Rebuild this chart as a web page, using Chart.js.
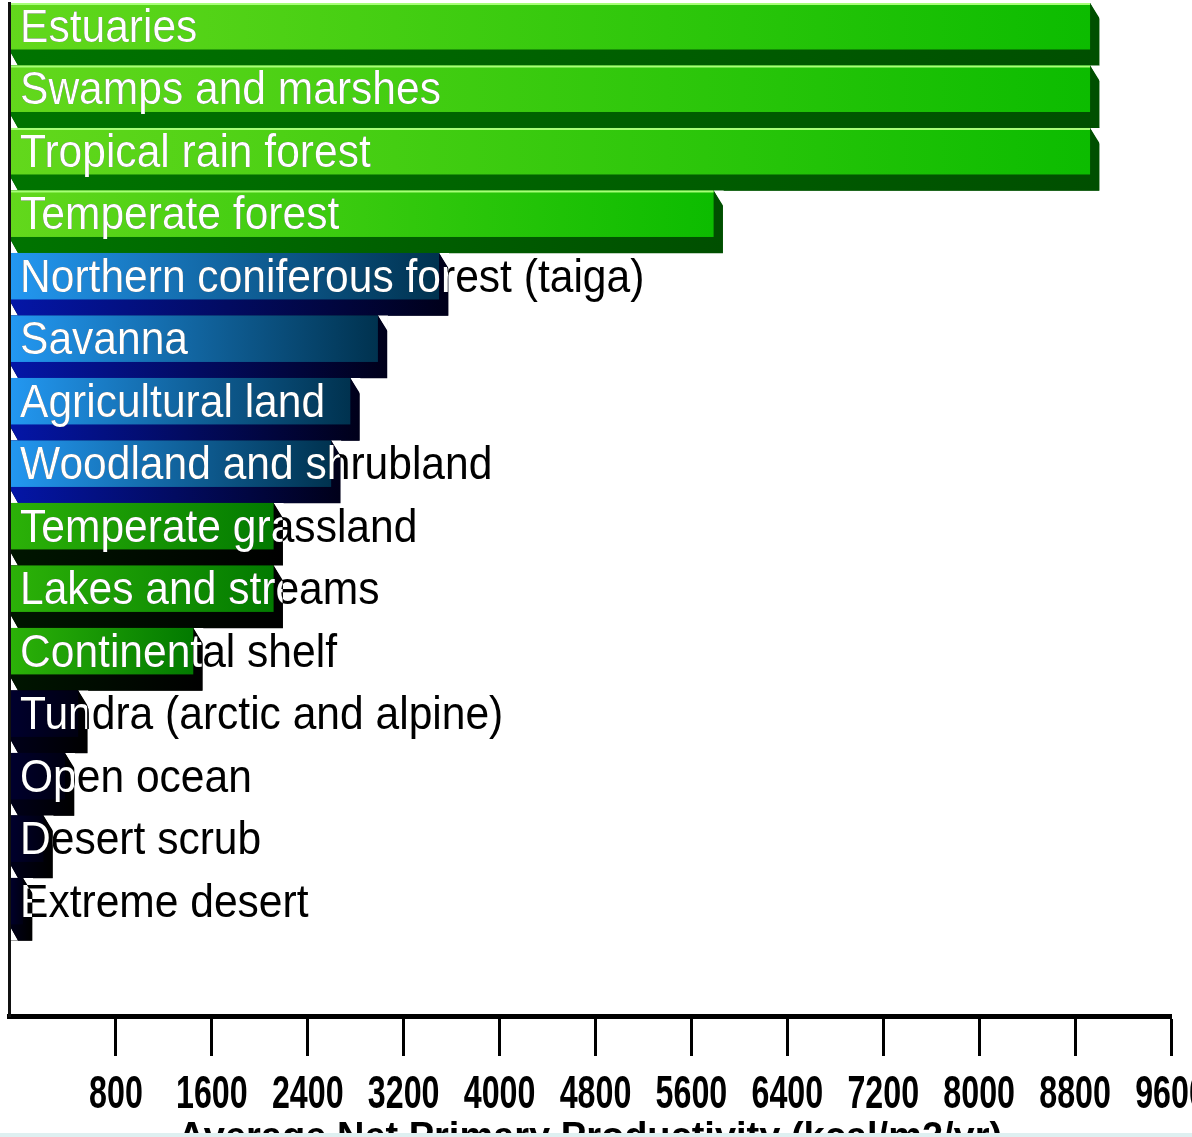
<!DOCTYPE html>
<html>
<head>
<meta charset="utf-8">
<title>Net primary productivity by life zone</title>
<script src="https://cdn.jsdelivr.net/npm/chart.js@4.4.1/dist/chart.umd.min.js"></script>
<style>
  html, body { margin: 0; padding: 0; background: #fff; overflow: hidden; }
  #wrap { position: relative; width: 1192px; height: 1137px; overflow: hidden; }
  canvas { display: block; }
  #strip { position: absolute; left: 0; bottom: 0; width: 1192px; height: 4px; background: #def0f1; }
</style>
</head>
<body>
<div id="wrap">
  <canvas id="npp" width="1192" height="1158"></canvas>
  <div id="strip"></div>
</div>
<script>
// life zones, top to bottom
const zones = [
  'Estuaries',
  'Swamps and marshes',
  'Tropical rain forest',
  'Temperate forest',
  'Northern coniferous forest (taiga)',
  'Savanna',
  'Agricultural land',
  'Woodland and shrubland',
  'Temperate grassland',
  'Lakes and streams',
  'Continental shelf',
  'Tundra (arctic and alpine)',
  'Open ocean',
  'Desert scrub',
  'Extreme desert'
];

// average net primary productivity, kcal/m2/yr
const npp = [9000, 9000, 9000, 5860, 3570, 3060, 2830, 2670, 2190, 2190, 1520, 560, 450, 270, 100];

const xTicks = [800, 1600, 2400, 3200, 4000, 4800, 5600, 6400, 7200, 8000, 8800, 9600];
const xTitle = 'Average Net Primary Productivity (kcal/m2/yr)';

// colour group of each bar
const barGroup = ['green', 'green', 'green', 'green', 'blue', 'blue', 'blue', 'blue',
  'grass', 'grass', 'grass', 'dark', 'dark', 'dark', 'dark'];

const palette = {
  green: { face: ['#63d81c', '#0cbc00'], depth: ['#007400', '#004f00'], hi: '#a8ff78' },
  blue:  { face: ['#2398f2', '#00324f'], depth: ['#0416a8', '#00001a'], hi: null },
  grass: { face: ['#2cb208', '#027a00'], depth: ['#001600', '#000000'], hi: null },
  dark:  { face: ['#00002e', '#000012'], depth: ['#00001a', '#000000'], hi: null }
};

const X_MIN = -92;
const X_MAX = 9600;
const DX = 9;   // extrusion of the bars to the right
const DY = 16;  // extrusion of the bars downwards

// one tick label, narrowed horizontally around its anchor
function drawTickItem(ctx, item, squeeze, color) {
  const o = item.options;
  ctx.save();
  ctx.translate(o.translation[0], o.translation[1]);
  ctx.scale(squeeze, 1);
  ctx.font = item.font.string;
  ctx.textAlign = o.textAlign;
  ctx.textBaseline = o.textBaseline;
  ctx.fillStyle = color || o.color;
  ctx.fillText(item.label, 0, item.textOffset || 0);
  ctx.restore();
}

// linear scale whose tick labels are set in a condensed width
class NarrowLinearScale extends Chart.LinearScale {
  drawLabels(chartArea) {
    if (!this.options.ticks.display) return;
    const squeeze = this.options.squeeze || 1;
    for (const item of this.getLabelItems(chartArea)) {
      drawTickItem(this.ctx, item, squeeze);
    }
  }
}
NarrowLinearScale.id = 'narrowLinear';
NarrowLinearScale.defaults = Chart.LinearScale.defaults;
Chart.register(NarrowLinearScale);

function barShape(ctx, bar) {
  const left = bar.base, right = bar.x;
  const top = bar.y - bar.height / 2, bottom = bar.y + bar.height / 2;
  const fx = right - DX, fy = bottom - DY;
  ctx.moveTo(left, top);
  ctx.lineTo(fx, top);
  ctx.lineTo(right, top + DY);
  ctx.lineTo(right, bottom);
  ctx.lineTo(left + DX, bottom);
  ctx.lineTo(left, fy);
  ctx.closePath();
}

const bar3d = {
  id: 'bar3d',
  afterDatasetsDraw(chart) {
    const ctx = chart.ctx;
    chart.getDatasetMeta(0).data.forEach((bar, i) => {
      const p = palette[barGroup[i]];
      const left = bar.base, right = bar.x;
      const top = bar.y - bar.height / 2, bottom = bar.y + bar.height / 2;
      const fx = right - DX, fy = bottom - DY;
      ctx.save();
      // bevelled corners back to page colour
      ctx.fillStyle = '#fff';
      ctx.beginPath();
      ctx.moveTo(fx, top); ctx.lineTo(right + 1, top); ctx.lineTo(right + 1, top + DY); ctx.closePath();
      ctx.moveTo(left, fy); ctx.lineTo(left + DX, bottom); ctx.lineTo(left, bottom); ctx.closePath();
      ctx.fill();
      // extruded body
      const dg = ctx.createLinearGradient(left, 0, right, 0);
      dg.addColorStop(0, p.depth[0]);
      dg.addColorStop(1, p.depth[1]);
      ctx.fillStyle = dg;
      ctx.beginPath();
      barShape(ctx, bar);
      ctx.fill();
      // front face
      const fg = ctx.createLinearGradient(left, 0, Math.max(fx, left + 1), 0);
      fg.addColorStop(0, p.face[0]);
      fg.addColorStop(1, p.face[1]);
      ctx.fillStyle = fg;
      ctx.fillRect(left, top, fx - left, fy - top);
      if (p.hi) {
        ctx.fillStyle = p.hi;
        ctx.fillRect(left, top, fx - left, 2);
      }
      ctx.restore();
    });
  },
  // labels turn white where they sit on a bar
  afterDraw(chart) {
    const ctx = chart.ctx;
    const yScale = chart.scales.y;
    const bars = chart.getDatasetMeta(0).data;
    ctx.save();
    ctx.beginPath();
    bars.forEach(bar => barShape(ctx, bar));
    ctx.clip();
    yScale.getLabelItems().forEach(item => drawTickItem(ctx, item, yScale.options.squeeze, '#fff'));
    ctx.restore();
  }
};

new Chart(document.getElementById('npp'), {
  type: 'bar',
  data: {
    datasets: [{
      data: npp.map((v, i) => ({ x: v, y: i })),
      base: X_MIN,
      backgroundColor: barGroup.map(g => palette[g].depth[1]),
      borderWidth: 0,
      barPercentage: 1,
      categoryPercentage: 1
    }]
  },
  options: {
    indexAxis: 'y',
    responsive: false,
    animation: false,
    layout: { padding: { top: 3, left: 0, right: 21, bottom: 0 } },
    plugins: { legend: { display: false }, tooltip: { enabled: false } },
    scales: {
      y: {
        type: 'narrowLinear',
        squeeze: 0.925,
        reverse: true,
        offset: false,
        min: -0.5,
        max: 15.71,
        afterBuildTicks: s => { s.ticks = zones.map((_, i) => ({ value: i })); },
        afterFit: s => { s.width = 9; s.paddingTop = 0; s.paddingBottom = 0; },
        grid: { display: false, drawTicks: false, offset: false },
        border: { display: true, color: '#111', width: 3, z: 2 },
        ticks: {
          autoSkip: false,
          mirror: true,
          padding: 11,
          labelOffset: -5,
          z: 1,
          color: '#000',
          font: { family: '"Liberation Sans", Arial, sans-serif', size: 46, lineHeight: 1 },
          callback: v => zones[v]
        }
      },
      x: {
        type: 'narrowLinear',
        squeeze: 0.7,
        min: X_MIN,
        max: X_MAX,
        afterBuildTicks: s => { s.ticks = xTicks.map(v => ({ value: v })); },
        afterFit: s => { s.paddingRight = 0; s.paddingLeft = 0; s.height = 142; },
        grid: { display: true, drawOnChartArea: false, drawTicks: true, tickLength: 40, tickWidth: 3, tickColor: '#000' },
        border: { display: true, color: '#000', width: 5 },
        ticks: {
          autoSkip: false,
          maxRotation: 0,
          padding: 16,
          color: '#000',
          font: { family: '"Liberation Sans", Arial, sans-serif', size: 46, weight: 'bold', lineHeight: 1 },
          callback: v => String(v)
        },
        title: {
          display: true,
          text: xTitle,
          color: '#000',
          padding: { top: 0, bottom: 0 },
          font: { family: '"Liberation Sans", Arial, sans-serif', size: 38, weight: 'bold', lineHeight: 1 }
        }
      }
    }
  },
  plugins: [bar3d]
});
</script>
</body>
</html>
